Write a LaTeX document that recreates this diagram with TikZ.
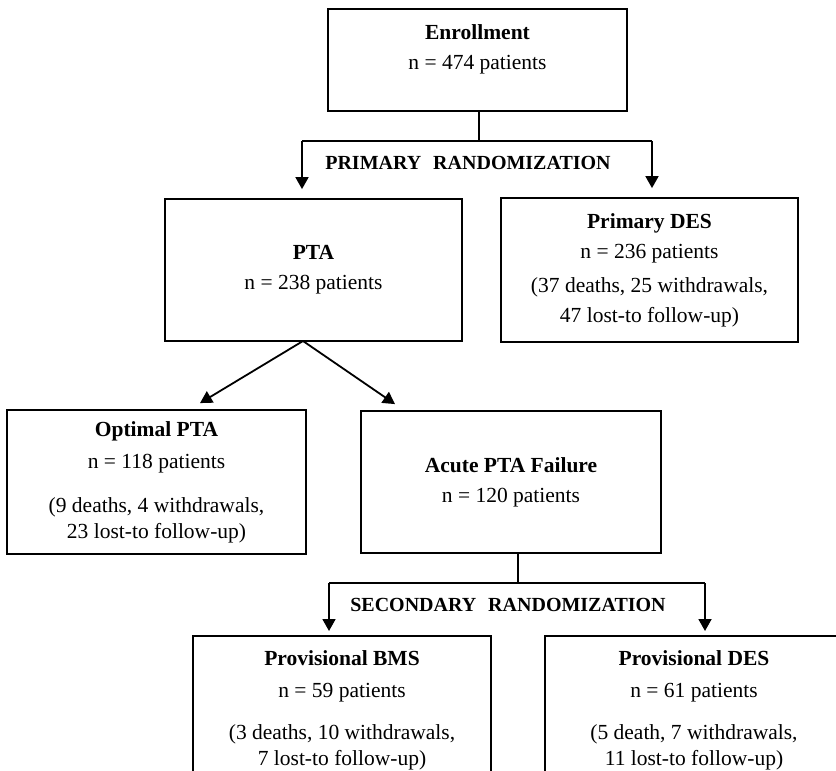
\documentclass[tikz,border=0pt]{standalone}
\usepackage{fontspec}
\setmainfont{Liberation Serif}
\usetikzlibrary{arrows.meta,positioning}

\begin{document}
\begin{tikzpicture}[x=1pt, y=-1pt,
    flowbox/.style={draw, line width=1.8pt, inner sep=0pt},
    boxtext/.style={align=center, font=\fontsize{21.5}{30}\selectfont},
    randlabel/.style={font=\fontsize{20}{24}\selectfont\bfseries},
    flowline/.style={line width=1.8pt},
    flowarrow/.style={line width=1.8pt, -{Triangle[width=13pt,length=12pt]}}]
  \useasboundingbox (0,0) rectangle (836,771);
  \clip (0,0) rectangle (836,771);

  % boxes
  \node[flowbox, minimum width=299, minimum height=102] (enroll) at (477.5,60) {};
  \node[boxtext, below=13pt of enroll.north] (enrolltext)
    {\textbf{Enrollment}\\ n = 474 patients};
  \node[flowbox, boxtext, minimum width=297, minimum height=142] (pta) at (313.5,270)
    {\textbf{PTA}\\ n = 238 patients};
  \node[flowbox, boxtext, minimum width=297, minimum height=144] (pdes) at (649.5,270)
    {\textbf{Primary DES}\\ n = 236 patients\\[4pt]
     (37 deaths, 25 withdrawals,\\ 47 lost-to follow-up)};
  \node[flowbox, boxtext, minimum width=299, minimum height=144] (opt) at (156.5,482)
    {\textbf{Optimal PTA}\\[2pt] n = 118 patients\\[14pt]
     (9 deaths, 4 withdrawals,\\[-4pt] 23 lost-to follow-up)};
  \node[flowbox, boxtext, minimum width=300, minimum height=142] (acute) at (511,482)
    {\textbf{Acute PTA Failure}\\ n = 120 patients};
  \node[flowbox, minimum width=298, minimum height=200, anchor=north] (bms) at (342,635) {};
  \node[boxtext, below=12pt of bms.north] (bmstext)
    {\textbf{Provisional BMS}\\[2pt] n = 59 patients\\[12pt]
     (3 deaths, 10 withdrawals,\\[-4pt] 7 lost-to follow-up)};
  \node[flowbox, minimum width=298, minimum height=200, anchor=north] (ddes) at (694,635) {};
  \node[boxtext, below=12pt of ddes.north] (ddestext)
    {\textbf{Provisional DES}\\[2pt] n = 61 patients\\[12pt]
     (5 death, 7 withdrawals,\\[-4pt] 11 lost-to follow-up)};

  % primary randomization
  \coordinate (fork1) at (479,141);
  \coordinate (fork1l) at (302,141);
  \coordinate (fork1r) at (652,141);
  \draw[flowline] (enroll.south -| fork1) -- (fork1);
  \draw[flowline] (fork1l) -- (fork1r);
  \draw[flowarrow, shorten >=9pt] (fork1l) -- (fork1l |- pta.north);
  \draw[flowarrow, shorten >=9pt] (fork1r) -- (fork1r |- pdes.north);
  \node[randlabel] (primlabel) at (468,163) {PRIMARY\hspace{12pt}RANDOMIZATION};

  % pta split
  \coordinate (ptafork) at (303,341);
  \draw[flowarrow] (ptafork) -- ([xshift=43.5pt, yshift=6pt]opt.north);
  \draw[flowarrow] (ptafork) -- ([xshift=-116pt, yshift=6pt]acute.north);

  % secondary randomization
  \coordinate (fork2) at (518,583);
  \coordinate (fork2l) at (329,583);
  \coordinate (fork2r) at (705,583);
  \draw[flowline] (acute.south -| fork2) -- (fork2);
  \draw[flowline] (fork2l) -- (fork2r);
  \draw[flowarrow, shorten >=4pt] (fork2l) -- (fork2l |- bms.north);
  \draw[flowarrow, shorten >=4pt] (fork2r) -- (fork2r |- ddes.north);
  \node[randlabel] (seclabel) at (508,605) {SECONDARY\hspace{12pt}RANDOMIZATION};
\end{tikzpicture}
\end{document}
